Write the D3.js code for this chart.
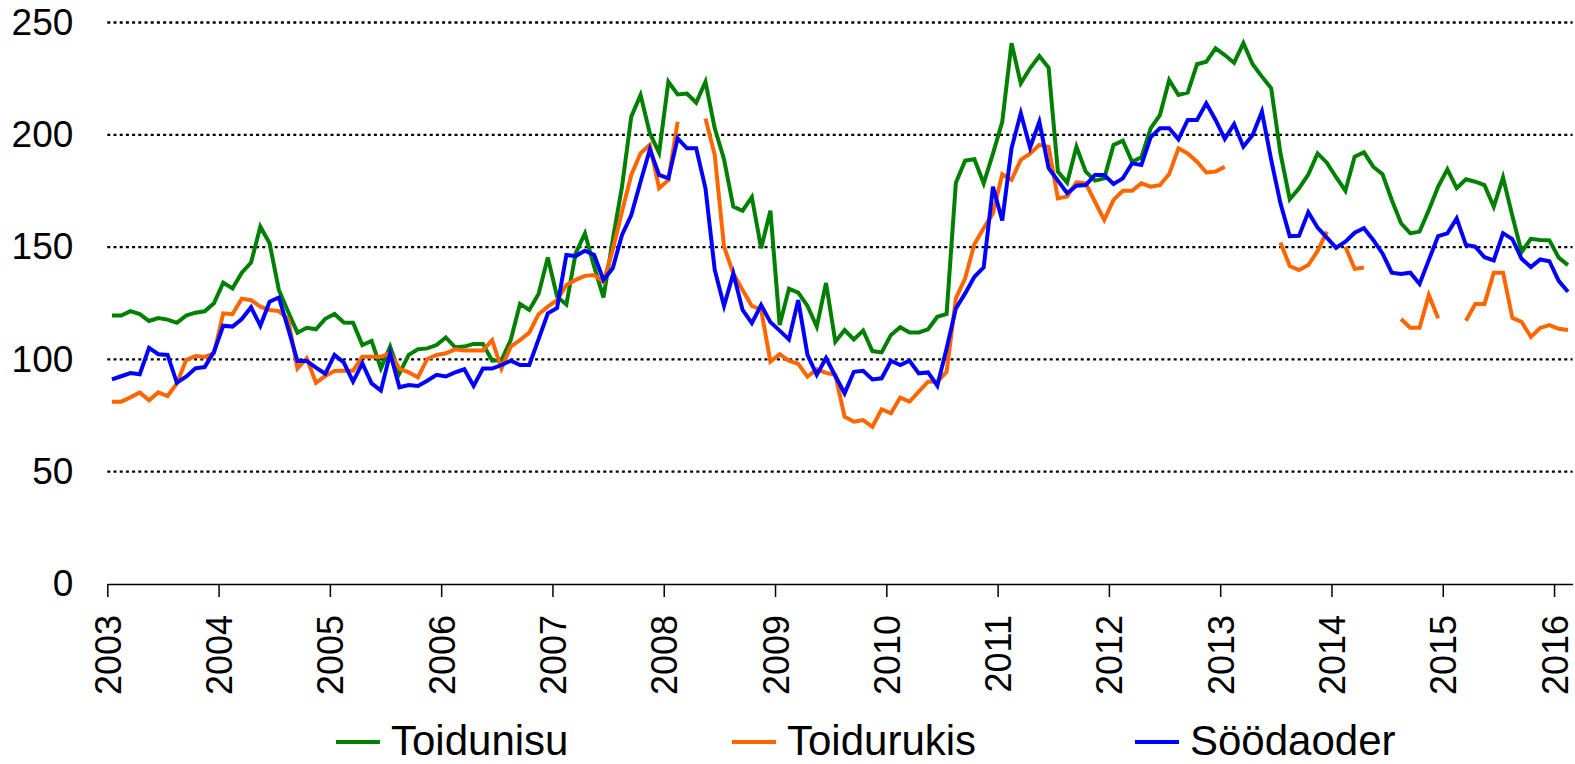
<!DOCTYPE html>
<html>
<head>
<meta charset="utf-8">
<script src="https://cdn.jsdelivr.net/npm/d3@7"></script>
<style>
  html, body { margin: 0; padding: 0; background: #fff; }
  svg { display: block; font-family: "Liberation Sans", Arial, sans-serif; }
</style>
</head>
<body>
<svg id="chart" width="1575" height="764"></svg>
<script>
// ---- Data (monthly, Jan 2003 – Feb 2016) ----
const startYear = 2003;
const monthCount = 158;
const yearTicks = [2003, 2004, 2005, 2006, 2007, 2008, 2009, 2010, 2011, 2012, 2013, 2014, 2015, 2016];
const yTicks = [0, 50, 100, 150, 200, 250];
const seriesNames = ["Toidunisu", "Toidurukis", "Söödaoder"];
const seriesColors = ["#008000", "#FF6600", "#0000FF"];

const toidunisu = [
  119.5, 119.5, 121.5, 120.2, 117.1, 118.4, 117.7, 116.3, 119.5, 120.8, 121.4, 125.0,
  134.2, 131.6, 138.6, 143.1, 159.1, 151.7, 130.9, 121.2, 111.9, 114.1, 113.4, 118.1,
  120.2, 116.4, 116.3, 106.4, 108.2, 96.0, 105.7, 93.8, 102.0, 104.5, 104.9, 106.4,
  109.8, 105.4, 105.7, 106.9, 106.9, 99.4, 99.7, 108.6, 124.7, 122.0, 129.1, 145.4,
  127.9, 124.4, 147.2, 156.1, 141.3, 127.6, 153.2, 176.9, 208.1, 217.7, 200.7, 192.0,
  223.6, 218.0, 218.4, 214.3, 223.6, 202.9, 189.1, 168.0, 166.2, 172.2, 149.5, 166.2,
  115.3, 131.5, 129.7, 123.8, 114.6, 134.0, 107.9, 113.1, 108.9, 112.8, 103.7, 103.1,
  110.9, 114.3, 112.0, 112.0, 113.4, 119.0, 120.2, 178.7, 188.5, 189.1, 178.4, 191.6,
  205.8, 240.8, 222.9, 229.6, 235.1, 229.8, 183.6, 178.7, 194.7, 183.6, 179.6, 180.6,
  195.5, 197.4, 188.0, 190.0, 202.9, 208.8, 224.4, 217.7, 218.8, 231.4, 232.5, 238.5,
  235.5, 232.1, 240.8, 231.4, 225.9, 220.7, 191.7, 171.3, 176.2, 182.3, 191.7, 187.6,
  181.1, 175.1, 190.3, 192.2, 185.8, 182.5, 171.0, 160.6, 156.1, 156.9, 166.5, 176.9,
  184.6, 176.2, 180.2, 179.1, 177.6, 168.0, 181.0, 164.0, 147.8, 153.7, 153.2, 153.0,
  145.3, 142.0
];
const toidurukis = [
  81.2, 81.2, 83.1, 85.3, 81.8, 85.3, 83.7, 89.3, 99.7, 101.5, 101.1, 102.7,
  120.5, 120.1, 127.0, 126.4, 123.5, 122.0, 121.5, 118.0, 96.0, 100.5, 89.6, 92.6,
  94.8, 95.0, 95.0, 101.2, 101.2, 101.2, 102.7, 95.9, 94.2, 92.0, 100.2, 102.0,
  102.7, 104.5, 104.0, 104.0, 104.0, 108.6, 95.9, 105.7, 108.6, 111.9, 120.1, 123.5,
  126.4, 133.1, 135.4, 137.2, 137.6, 134.6, 148.7, 165.8, 182.1, 191.8, 195.5, 176.2,
  179.9, 205.8, null, null, 207.3, 191.0, 150.2, 138.3, 130.9, 123.8, 122.1, 99.0,
  102.3, 99.4, 98.0, 92.3, 95.6, 94.0, 93.1, 74.5, 72.3, 73.0, 70.0, 77.8,
  76.0, 83.0, 81.2, 85.6, 90.1, 90.1, 94.5, 127.2, 136.1, 151.4, 158.4, 165.1,
  182.5, 179.9, 188.8, 191.6, 195.5, 194.6, 171.7, 172.5, 178.8, 178.4, 170.2, 162.1,
  171.0, 175.1, 175.1, 178.4, 176.9, 177.6, 182.5, 194.0, 191.7, 188.0, 183.2, 183.6,
  185.8, null, null, null, null, null, 152.0, 141.6, 139.8, 142.0, 148.2, 156.9,
  null, 150.2, 140.3, 140.9, null, null, null, 118.0, 114.1, 114.1, 128.7, 118.3,
  null, null, 117.2, 124.7, 124.7, 138.6, 138.6, 118.5, 116.7, 110.0, 114.0, 115.3,
  113.6, 113.1
];
const soodaoder = [
  91.1, 92.5, 93.9, 93.4, 105.1, 102.3, 102.0, 89.6, 92.3, 96.0, 96.6, 103.4,
  115.0, 114.6, 118.0, 123.2, 115.0, 125.7, 127.6, 113.8, 99.3, 99.3, 96.3, 93.6,
  102.0, 98.6, 90.1, 98.2, 89.3, 86.1, 102.7, 87.6, 88.6, 88.2, 90.5, 93.1,
  92.4, 94.2, 95.6, 88.2, 95.9, 95.9, 97.5, 99.4, 97.5, 97.5, 108.9, 120.5,
  122.9, 146.5, 146.0, 148.4, 146.5, 135.4, 140.6, 155.4, 164.3, 179.1, 193.5, 182.1,
  180.6, 198.4, 194.0, 194.0, 176.2, 139.8, 123.8, 138.3, 122.0, 116.1, 124.2, 116.6,
  112.8, 108.9, 126.4, 102.0, 93.1, 100.6, 92.6, 84.9, 94.5, 94.9, 91.1, 91.6,
  99.4, 97.5, 99.4, 93.8, 94.2, 88.3, 104.9, 122.7, 129.4, 136.8, 141.0, 176.9,
  161.8, 194.0, 209.6, 194.3, 205.8, 185.1, 179.6, 174.0, 177.3, 177.6, 182.1, 182.1,
  178.1, 180.6, 187.3, 186.6, 198.9, 202.9, 202.9, 198.0, 206.6, 206.6, 214.0, 206.6,
  198.2, 204.8, 194.7, 199.9, 210.3, 188.8, 169.5, 154.9, 155.0, 165.5, 158.7, 154.2,
  149.7, 152.4, 156.4, 158.4, 153.2, 147.2, 138.6, 138.0, 138.6, 133.6, 144.3, 154.9,
  156.1, 162.8, 150.9, 150.2, 145.5, 144.1, 156.2, 153.6, 144.8, 141.1, 144.5, 143.7,
  135.0, 130.1
];

// ---- Chart ----
const svg = d3.select("#chart");
const plotLeft = 107.3, plotRight = 1572.6, plotTop = 22.5, plotBottom = 584;

const x = d3.scaleLinear().domain([0, monthCount]).range([plotLeft, plotRight]);
const y = d3.scaleLinear().domain([0, 250]).range([plotBottom, plotTop]);

// gridlines
svg.append("g").selectAll("line")
  .data(yTicks.filter(v => v > 0))
  .join("line")
  .attr("x1", plotLeft).attr("x2", plotRight)
  .attr("y1", d => y(d)).attr("y2", d => y(d))
  .attr("stroke", "#000").attr("stroke-width", 2.3)
  .attr("stroke-dasharray", "3,3.2");

// y axis labels
const yAxis = d3.axisLeft(y).tickValues(yTicks).tickSize(0).tickPadding(34);
const gy = svg.append("g").attr("transform", `translate(${plotLeft},0)`).call(yAxis);
gy.select(".domain").remove();
gy.selectAll("text").attr("font-size", 37).attr("font-family", "Liberation Sans, Arial, sans-serif").attr("fill", "#000");

// x axis
const xAxis = d3.axisBottom(x)
  .tickValues(yearTicks.map(yr => (yr - startYear) * 12))
  .tickFormat((d, i) => yearTicks[i])
  .tickSize(13).tickSizeOuter(0);
const gx = svg.append("g").attr("transform", `translate(0,${plotBottom})`).call(xAxis);
gx.select(".domain").attr("stroke", "#000").attr("stroke-width", 1.5);
gx.selectAll(".tick line").attr("stroke", "#000").attr("stroke-width", 1.5);
gx.selectAll("text")
  .attr("font-size", 36).attr("font-family", "Liberation Sans, Arial, sans-serif").attr("fill", "#000")
  .attr("transform", "rotate(-90)")
  .attr("text-anchor", "end")
  .attr("x", -31).attr("y", 0).attr("dy", "0.36em");

// lines
const line = d3.line()
  .defined(d => d != null)
  .x((d, i) => x(i + 0.5))
  .y(d => y(d));

const allSeries = [toidunisu, toidurukis, soodaoder];
svg.append("g").selectAll("path")
  .data(allSeries)
  .join("path")
  .attr("fill", "none")
  .attr("stroke", (d, i) => seriesColors[i])
  .attr("stroke-width", 4)
  .attr("stroke-linejoin", "miter")
  .attr("d", d => line(d));

// legend
const legendX = [336, 732, 1135];
const lg = svg.append("g").selectAll("g")
  .data(seriesNames)
  .join("g")
  .attr("transform", (d, i) => `translate(${legendX[i]},742)`);
lg.append("line").attr("x1", 0).attr("x2", 44).attr("y1", 0).attr("y2", 0)
  .attr("stroke", (d, i) => seriesColors[i]).attr("stroke-width", 4);
lg.append("text").attr("x", 55).attr("dy", "0.31em")
  .attr("font-size", 42).attr("font-family", "Liberation Sans, Arial, sans-serif")
  .attr("fill", "#000").text(d => d);
</script>
</body>
</html>
